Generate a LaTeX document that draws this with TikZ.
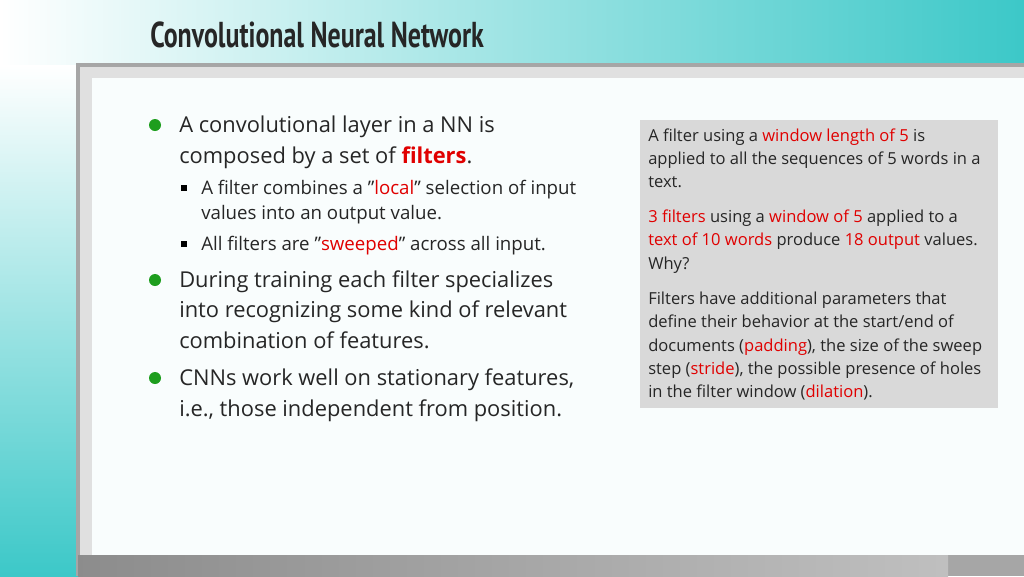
\documentclass[tikz,border=0pt]{standalone}
\usepackage{fontspec}
\setmainfont{Open Sans}[Ligatures=ResetAll]
\newfontfamily\titlefont[FakeStretch=0.72]{PT Sans}
\definecolor{teal1}{HTML}{3CC8C8}
\definecolor{hl}{HTML}{E00000}
\definecolor{bgreen}{HTML}{1E9E1E}
\newcommand{\q}{\char34\relax}
\begin{document}
\begin{tikzpicture}[x=0.75pt,y=-0.75pt,
  main/.style={anchor=base west,inner sep=0pt,font=\fontsize{16.4}{18}\selectfont,text=black!85},
  sub/.style={anchor=base west,inner sep=0pt,font=\fontsize{14.0}{15}\selectfont,text=black!85},
  boxt/.style={anchor=base west,inner sep=0pt,font=\fontsize{12.4}{14}\selectfont,text=black!85},
  gbul/.style={circle,fill=bgreen,minimum size=9pt,inner sep=0pt},
  sbul/.style={fill=black,minimum size=4.5pt,inner sep=0pt}]
\useasboundingbox (0,0) rectangle (1024,576);
% background
\fill[white] (0,0) rectangle (1024,576);
\shade[left color=white,right color=teal1] (0,0) rectangle (1024,65);
\shade[top color=white,bottom color=teal1] (0,65) rectangle (78,576);
\fill[teal1] (948,555) rectangle (1024,576);
\fill[black!35] (76,63) rectangle (1024,576);
\fill[black!12] (80,67) rectangle (1024,555);
\fill[white!97!teal1] (92,78) rectangle (1024,555);
\shade[left color=black!45,right color=black!25] (78,555) rectangle (948,576);
% title
\node[anchor=base west,inner sep=0pt,font=\titlefont\bfseries\fontsize{27}{30}\selectfont,text=black!85] (title) at (150,47) {Convolutional Neural Network};
% bullets
\node[gbul] (b1) at (155,125) {};
\node[gbul] (b2) at (155,280) {};
\node[gbul] (b3) at (155,378) {};
\node[sbul] (s1) at (184,188) {};
\node[sbul] (s2) at (184,244) {};
\node[main] (l1) at (179,132) {A convolutional layer in a NN is};
\node[main] (l2) at (179,163) {composed by a set of \textcolor{hl}{\textbf{filters}}.};
\node[sub] (l3) at (201,194) {A filter combines a \q\textcolor{hl}{local}\q{} selection of input};
\node[sub] (l4) at (201,219) {values into an output value.};
\node[sub] (l5) at (201,250) {All filters are \q\textcolor{hl}{sweeped}\q{} across all input.};
\node[main] (l6) at (179,287) {During training each filter specializes};
\node[main] (l7) at (179,317) {into recognizing some kind of relevant};
\node[main] (l8) at (179,348) {combination of features.};
\node[main] (l9) at (179,385) {CNNs work well on stationary features,};
\node[main] (l10) at (179,416) {i.e., those independent from position.};
% box
\fill[black!15] (640,120) rectangle (998,408);
\node[boxt] (t1) at (648,141) {A filter using a \textcolor{hl}{window length of 5} is};
\node[boxt] (t2) at (648,164) {applied to all the sequences of 5 words in a};
\node[boxt] (t3) at (648,187) {text.};
\node[boxt] (t4) at (648,222) {\textcolor{hl}{3 filters} using a \textcolor{hl}{window of 5} applied to a};
\node[boxt] (t5) at (648,245) {\textcolor{hl}{text of 10 words} produce \textcolor{hl}{18 output} values.};
\node[boxt] (t6) at (648,269) {Why?};
\node[boxt] (t7) at (648,304) {Filters have additional parameters that};
\node[boxt] (t8) at (648,327) {define their behavior at the start/end of};
\node[boxt] (t9) at (648,351) {documents (\textcolor{hl}{padding}), the size of the sweep};
\node[boxt] (t10) at (648,374) {step (\textcolor{hl}{stride}), the possible presence of holes};
\node[boxt] (t11) at (648,397) {in the filter window (\textcolor{hl}{dilation}).};
\end{tikzpicture}
\end{document}
